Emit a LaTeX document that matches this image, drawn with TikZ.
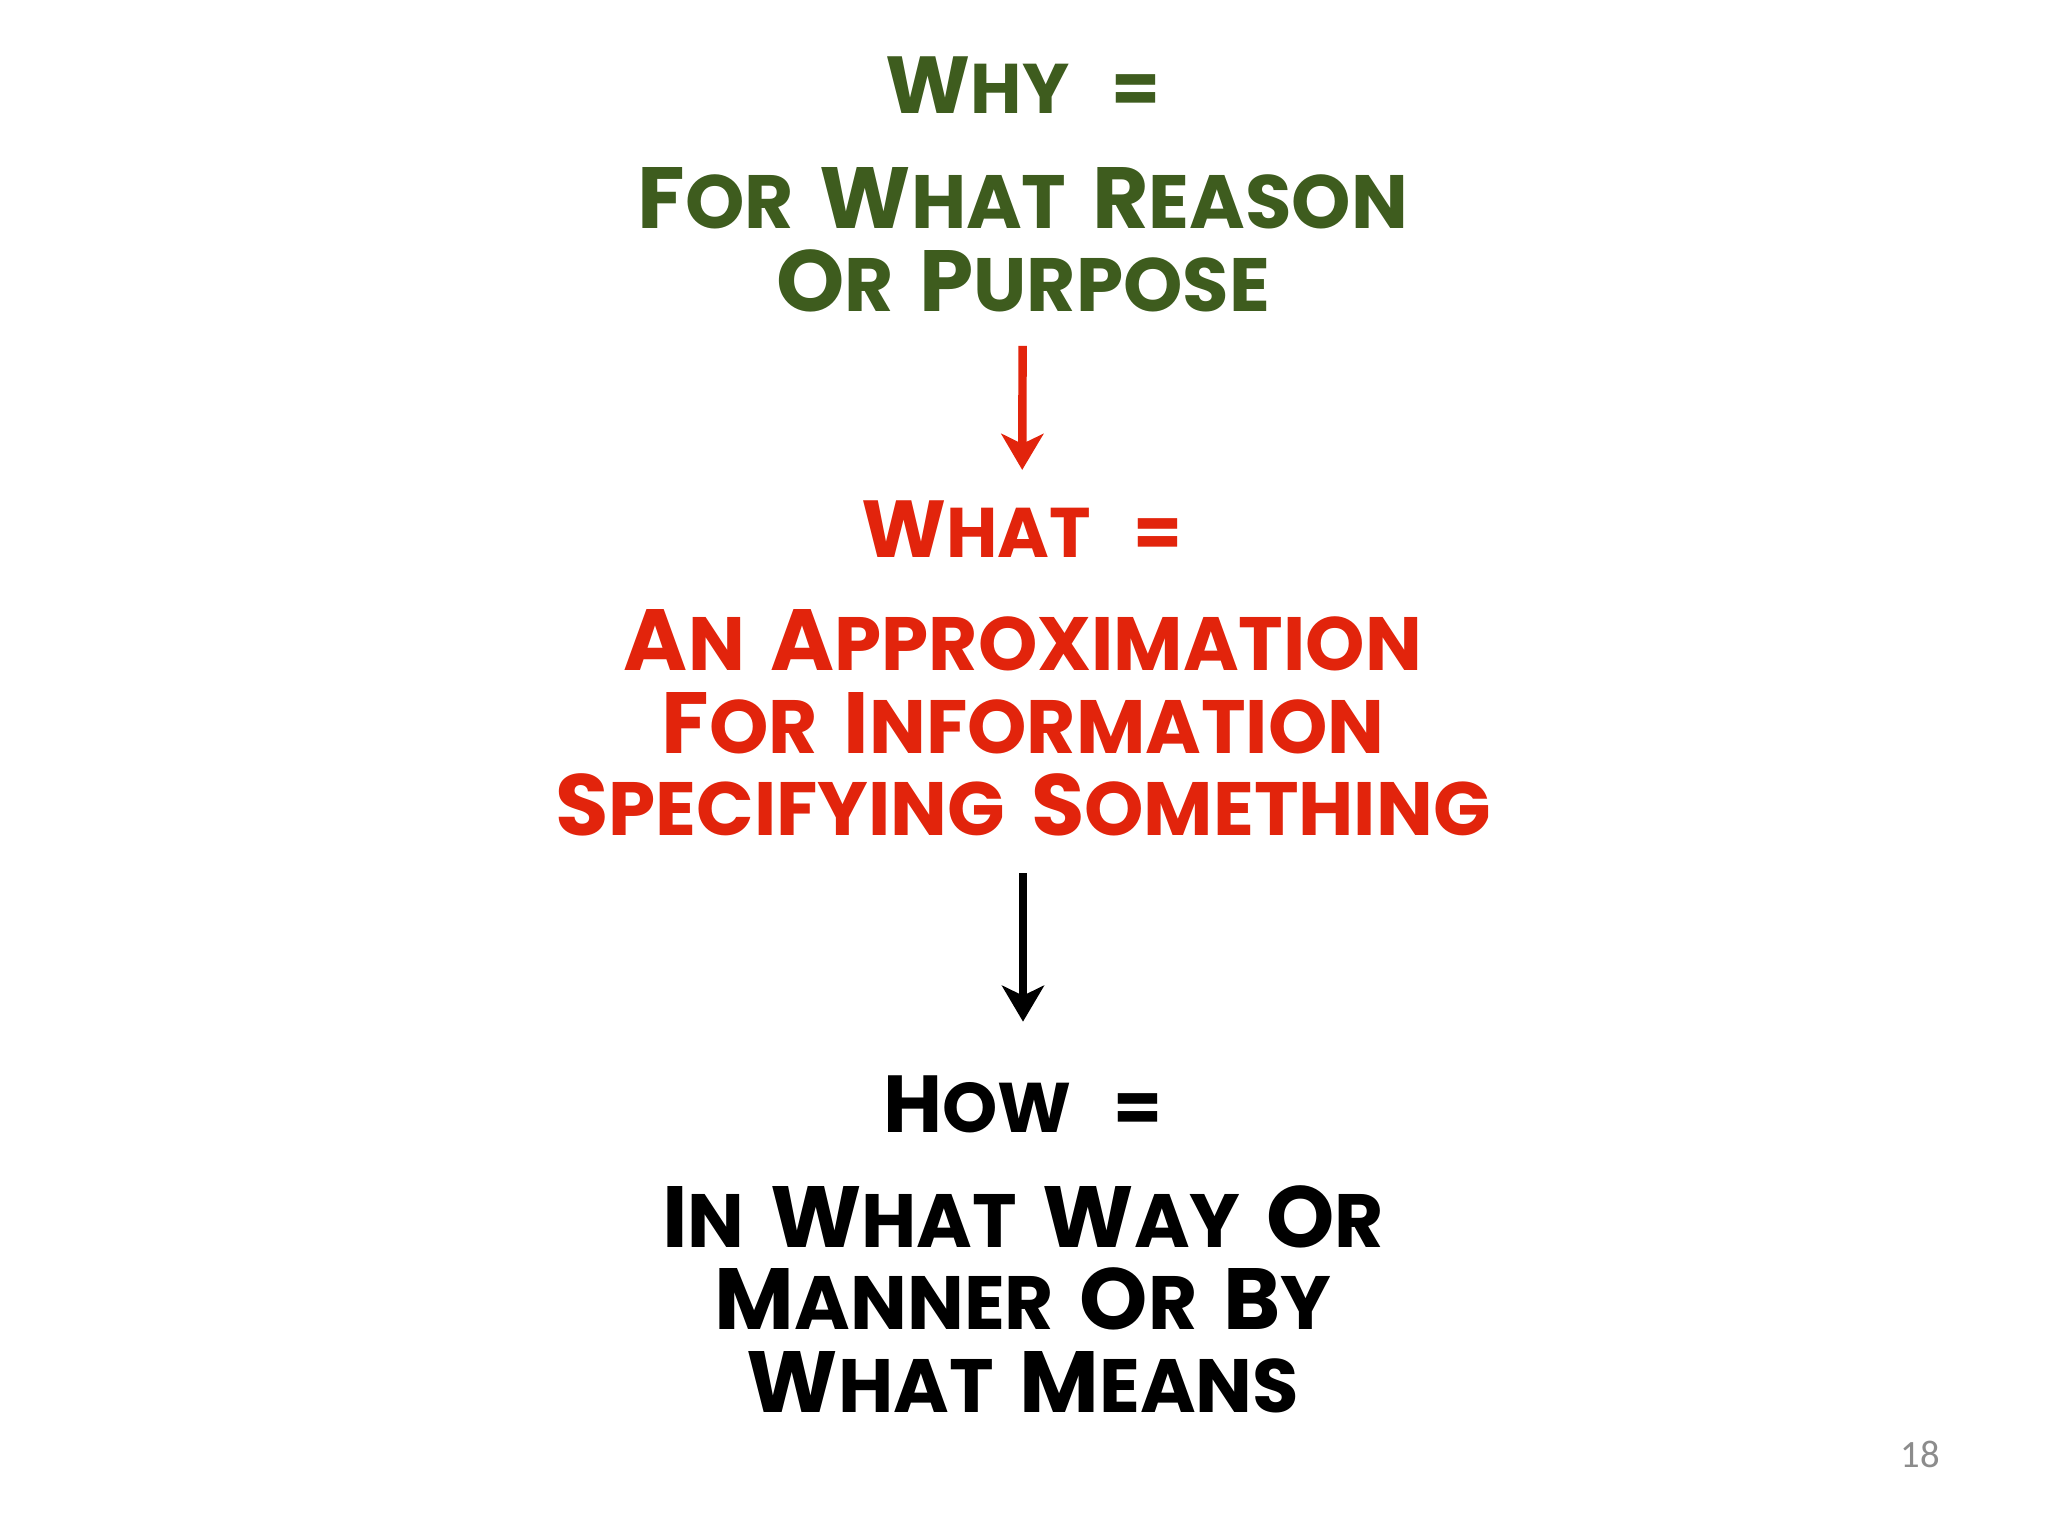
\documentclass[tikz,border=0pt]{standalone}
\usepackage{fontspec}
\setmainfont{Poppins}[WordSpace=1.6]
\usepackage{xcolor}
\usetikzlibrary{arrows.meta}

\definecolor{whygreen}{RGB}{62,92,30}
\definecolor{whatred}{RGB}{226,36,12}
\definecolor{pagegray}{RGB}{140,140,140}

% bigger first letter of a word
\newcommand{\initcap}[1]{\scalebox{1.15}{#1}}

\begin{document}
\begin{tikzpicture}[
    head/.style={font=\fontsize{20}{23}\selectfont\bfseries, inner sep=0pt},
    body/.style={font=\fontsize{21.5}{23.5}\selectfont\bfseries, align=center, inner sep=0pt},
    flow/.style={line width=2.4pt, -{Stealth[length=0.36cm, width=0.42cm, inset=0.1cm]}}
  ]
  % page
  \useasboundingbox[fill=white] (0, 0) rectangle (20.48, 15.36);

  % Why
  \node[head, text=whygreen] (why) at (10.23, 14.51) {\initcap{W}HY\hspace{0.6em}=};
  \node[body, text=whygreen] (whyText) at (10.23, 12.96)
    {\initcap{F}OR \initcap{W}HAT \initcap{R}EASON\\ \initcap{O}R \initcap{P}URPOSE};

  % What
  \node[head, text=whatred] (what) at (10.22, 10.07) {\initcap{W}HAT\hspace{0.6em}=};
  \node[body, text=whatred] (whatText) at (10.23, 8.13)
    {\initcap{A}N \initcap{A}PPROXIMATION\\ \initcap{F}OR \initcap{I}NFORMATION\\
     \initcap{S}PECIFYING \initcap{S}OMETHING};

  % How
  \node[head, text=black] (how) at (10.23, 4.32) {\initcap{H}OW\hspace{0.6em}=};
  \node[body, text=black] (howText) at (10.23, 2.37)
    {\initcap{I}N \initcap{W}HAT \initcap{W}AY \initcap{O}R\\ \initcap{M}ANNER \initcap{O}R \initcap{B}Y\\
     \initcap{W}HAT \initcap{M}EANS};

  % Arrows
  \draw[flow, whatred, shorten <=0.33cm, shorten >=0.30cm] (whyText) -- (what);
  \draw[flow, black, shorten <=0.36cm, shorten >=0.53cm] (whatText) -- (how);

  % Page number
  \node[text=pagegray, font=\fontspec{Carlito}\fontsize{11}{13}\selectfont] (page) at (19.20, 0.82) {18};
\end{tikzpicture}
\end{document}
